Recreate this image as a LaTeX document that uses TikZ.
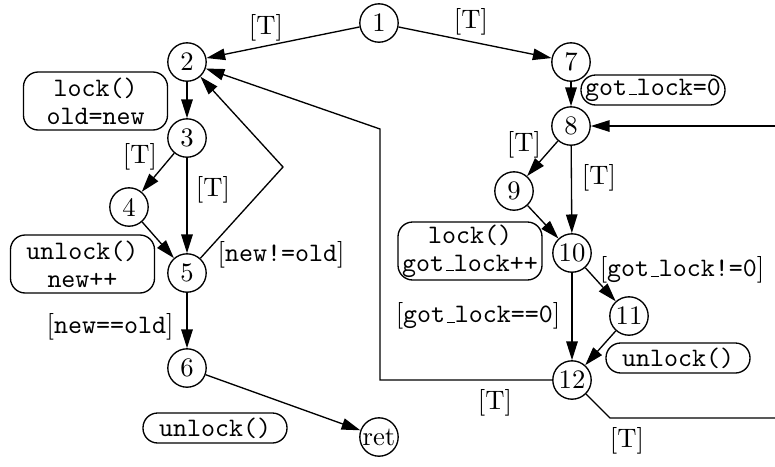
\documentclass[tikz,border=0pt]{standalone}
\usetikzlibrary{arrows.meta}
% short baseline rule used as the underscore in identifiers
\newcommand\usc{\leavevmode\kern.06em\vbox{\hrule width.3em}}
\begin{document}
\begin{tikzpicture}[x=0.375pt,y=-0.375pt,
  state/.style={circle,draw,line width=0.5pt,minimum size=14.4pt,inner sep=0pt},
  act/.style={draw,rounded corners=5.5pt,line width=0.5pt,font=\ttfamily,align=center,
    inner sep=0pt,minimum width=54pt,minimum height=11.25pt},
  act2/.style={act,minimum height=21.75pt},
  guard/.style={inner sep=0pt},
  flow/.style={-{Triangle[length=7pt,width=4.3pt]},line width=0.5pt},
  wire/.style={line width=0.5pt}]
\useasboundingbox (0,0) rectangle (775,466);

% control-flow states
\node[state] (n1)  at (379,23)  {1};
\node[state] (n2)  at (187,62)  {2};
\node[state] (n3)  at (187,138) {3};
\node[state] (n4)  at (129,207) {4};
\node[state] (n5)  at (187,273) {5};
\node[state] (n6)  at (187,368) {6};
\node[state] (ret) at (379,437) {ret};
\node[state] (n7)  at (571,62)  {7};
\node[state] (n8)  at (571,126) {8};
\node[state] (n9)  at (514,191) {9};
\node[state] (n10) at (572,253) {10};
\node[state] (n11) at (629,316) {11};
\node[state] (n12) at (572,380) {12};

% actions
\node[act2] (a1) at (95.5,101) {lock()\\[-1.5pt]old=new};
\node[act2] (a2) at (82.5,264) {unlock()\\[-1.5pt]new++};
\node[act]  (a3) at (215,428)  {unlock()};
\node[act]  (a4) at (653,90)   {got\usc lock=0};
\node[act2] (a5) at (470,251)  {lock()\\[-1.5pt]got\usc lock++};
\node[act]  (a6) at (678,358)  {unlock()};

% guards
\node[guard] (g1)  at (266,28)  {[T]};
\node[guard] (g2)  at (471,22)  {[T]};
\node[guard] (g3)  at (140,157) {[T]};
\node[guard] (g4)  at (213,190) {[T]};
\node[guard] (g5)  at (281,255) {[\texttt{new!=old}]};
\node[guard] (g6)  at (110,327) {[\texttt{new==old}]};
\node[guard] (g7)  at (524,145) {[T]};
\node[guard] (g8)  at (599,178) {[T]};
\node[guard] (g9)  at (682,270) {[\texttt{got\usc lock!=0}]};
\node[guard] (g10) at (478,316) {[\texttt{got\usc lock==0}]};
\node[guard] (g11) at (495,403) {[T]};
\node[guard] (g12) at (627,441) {[T]};

% bend points and loose ends
\coordinate (c52)  at (283,167);
\coordinate (c12a) at (380,380);
\coordinate (c12b) at (380,129);
\coordinate (c12c) at (610,418);
\coordinate (e12)  at (775,418);
\coordinate (e8)   at (775,126);

% edges
\draw[flow] (n1) -- (n2);
\draw[flow] (n1) -- (n7);
\draw[flow] (n2) -- (n3);
\draw[flow] (n3) -- (n4);
\draw[flow] (n3) -- (n5);
\draw[flow] (n4) -- (n5);
\draw[flow] (n5) -- (c52) -- (n2);
\draw[flow] (n5) -- (n6);
\draw[flow] (n6) -- (ret);
\draw[flow] (n7) -- (n8);
\draw[flow] (n8) -- (n9);
\draw[flow] (n8) -- (n10);
\draw[flow] (n9) -- (n10);
\draw[flow] (n10) -- (n11);
\draw[flow] (n10) -- (n12);
\draw[flow] (n11) -- (n12);
\draw[flow] (n12) -- (c12a) -- (c12b) -- (n2);
\draw[wire] (n12) -- (c12c) -- (e12);
\draw[flow] (e8) -- (n8);
\end{tikzpicture}
\end{document}
